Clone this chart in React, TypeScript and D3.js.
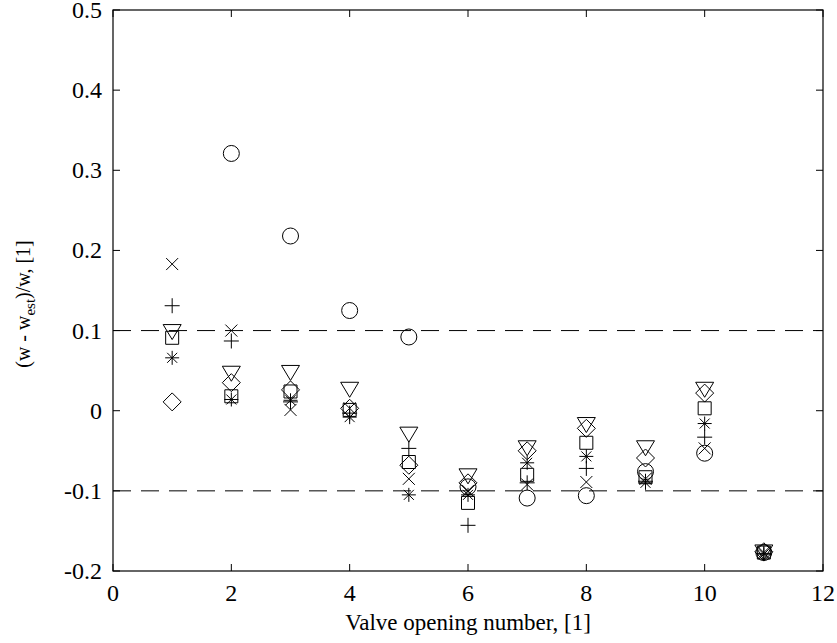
import React from "react";
import * as d3 from "d3";

const valveNumbers = [1, 2, 3, 4, 5, 6, 7, 8, 9, 10, 11];
const circleVals = [NaN, 0.321, 0.218, 0.125, 0.092, -0.095, -0.109, -0.106, -0.076, -0.053, -0.177];
const crossVals = [0.183, 0.1, 0.001, 0.003, -0.085, -0.1, -0.092, -0.089, -0.085, -0.047, -0.177];
const plusVals = [0.131, 0.087, 0.011, -0.003, -0.047, -0.143, -0.09, -0.072, -0.088, -0.033, -0.178];
const starVals = [0.066, 0.014, 0.013, -0.008, -0.105, -0.105, -0.065, -0.057, -0.09, -0.016, -0.179];
const squareVals = [0.091, 0.018, 0.024, 0.001, -0.064, -0.115, -0.08, -0.04, -0.083, 0.003, -0.177];
const diamondVals = [0.011, 0.035, 0.026, 0.003, -0.068, -0.09, -0.05, -0.022, -0.059, 0.022, -0.176];
const triangleVals = [0.1, 0.048, 0.049, 0.028, -0.028, -0.08, -0.045, -0.016, -0.045, 0.028, -0.175];

const xTicks = [0, 2, 4, 6, 8, 10, 12];
const yTicks = [-0.2, -0.1, 0, 0.1, 0.2, 0.3, 0.4, 0.5];
const yTickLabels = ["-0.2", "-0.1", "0", "0.1", "0.2", "0.3", "0.4", "0.5"];
const limitLines = [0.1, -0.1];

const series = [
  { name: "circle", values: circleVals },
  { name: "cross", values: crossVals },
  { name: "plus", values: plusVals },
  { name: "star", values: starVals },
  { name: "square", values: squareVals },
  { name: "diamond", values: diamondVals },
  { name: "triangle", values: triangleVals },
];

function markerPath(kind: string): string {
  switch (kind) {
    case "circle": {
      const p = d3.path();
      p.arc(0, 0, 8, 0, Math.PI * 2);
      return p.toString();
    }
    case "cross":
      return "M-6,-6L6,6M-6,6L6,-6";
    case "plus":
      return "M-7.5,0L7.5,0M0,-7.5L0,7.5";
    case "star":
      return "M-7,0L7,0M0,-7L0,7M-5,-5L5,5M-5,5L5,-5";
    case "square":
      return "M-6.5,-6.5L6.5,-6.5L6.5,6.5L-6.5,6.5Z";
    case "diamond":
      return "M0,-9L9,0L0,9L-9,0Z";
    case "triangle":
      return "M-9,-6L9,-6L0,9Z";
    default:
      return "";
  }
}

export default function App() {
  const width = 837;
  const height = 643;
  const left = 113;
  const right = 823;
  const top = 10;
  const bottom = 571;

  const x = d3.scaleLinear().domain([0, 12]).range([left, right]);
  const y = d3.scaleLinear().domain([-0.2, 0.5]).range([bottom, top]);
  const font = "Liberation Serif, Times New Roman, serif";
  const tickLen = 7;

  return (
    <svg width={width} height={height} style={{ position: "absolute", left: 0, top: 0, background: "#fff" }}>
      <rect x={0} y={0} width={width} height={height} fill="#fff" />
      {limitLines.map((v) => (
        <line key={v} x1={left} x2={right} y1={y(v)} y2={y(v)} stroke="#000" strokeWidth={1} strokeDasharray="18,10" />
      ))}
      {series.map((s) =>
        s.values.map((v, i) =>
          Number.isFinite(v) ? (
            <path
              key={s.name + i}
              d={markerPath(s.name)}
              transform={`translate(${x(valveNumbers[i])},${y(v)})`}
              fill="none"
              stroke="#000"
              strokeWidth={1}
            />
          ) : null
        )
      )}
      <rect x={left} y={top} width={right - left} height={bottom - top} fill="none" stroke="#000" strokeWidth={1.2} />
      {xTicks.map((t) => (
        <g key={"xt" + t}>
          <line x1={x(t)} x2={x(t)} y1={bottom} y2={bottom - tickLen} stroke="#000" />
          <line x1={x(t)} x2={x(t)} y1={top} y2={top + tickLen} stroke="#000" />
          <text x={x(t)} y={bottom + 30} textAnchor="middle" fontFamily={font} fontSize={24}>
            {t}
          </text>
        </g>
      ))}
      {yTicks.map((t, i) => (
        <g key={"yt" + t}>
          <line x1={left} x2={left + tickLen} y1={y(t)} y2={y(t)} stroke="#000" />
          <line x1={right} x2={right - tickLen} y1={y(t)} y2={y(t)} stroke="#000" />
          <text x={left - 11} y={y(t) + 8} textAnchor="end" fontFamily={font} fontSize={24}>
            {yTickLabels[i]}
          </text>
        </g>
      ))}
      <text x={(left + right) / 2} y={630} textAnchor="middle" fontFamily={font} fontSize={23}>
        Valve opening number, [1]
      </text>
      <text
        transform={`translate(30, 304) rotate(-90)`}
        textAnchor="middle"
        fontFamily={font}
        fontSize={20}
      >
        (w - w<tspan fontSize={15} dy={5}>est</tspan>
        <tspan dy={-5}>)/w, [1]</tspan>
      </text>
    </svg>
  );
}
